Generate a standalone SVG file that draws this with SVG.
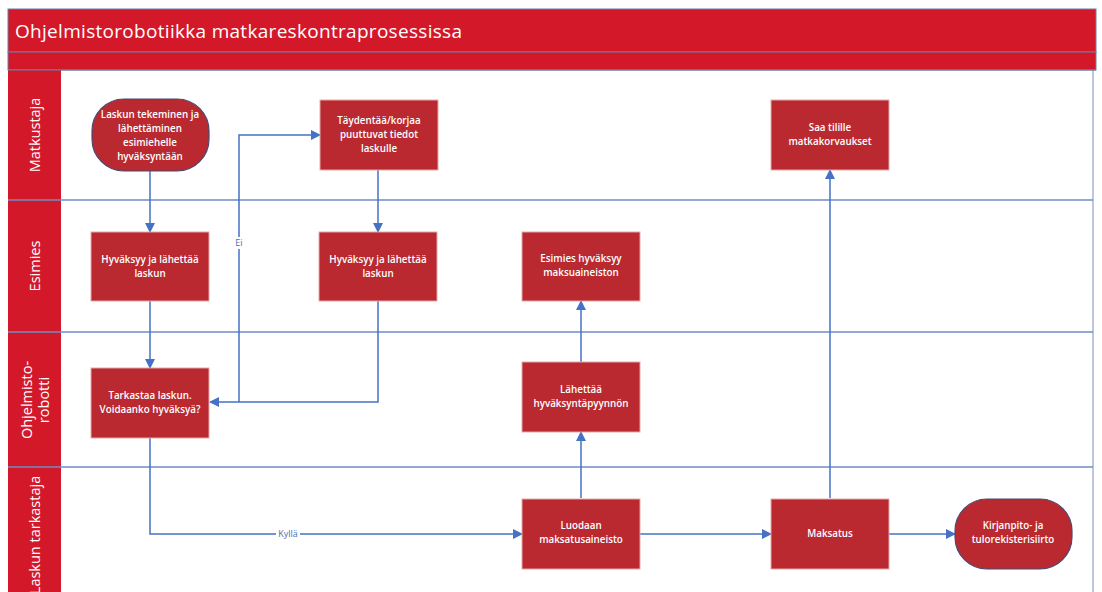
<svg xmlns="http://www.w3.org/2000/svg" width="1102" height="592" viewBox="0 0 1102 592">
<defs>
<marker id="arr" viewBox="0 0 10 10" refX="9" refY="5" markerWidth="10" markerHeight="10" markerUnits="userSpaceOnUse" orient="auto">
<path d="M0,0 L10,5 L0,10 z" fill="#4472C4"/>
</marker>
</defs>
<style>
.bar{fill:#D3182A;stroke:#6E7FA8;stroke-width:1}
.lane{stroke:#6F8CC4;stroke-width:1.5;fill:none}
.box{fill:#B9292F;stroke:#E7A9A9;stroke-width:1}
.term{fill:#B9292F;stroke:#4A4A72;stroke-width:1.2}
.nt{font-family:"Open Sans","Noto Sans",sans-serif;font-size:9.8px;font-weight:600;fill:#FFFFFF;text-anchor:middle}
.lt{font-family:"Open Sans","Noto Sans",sans-serif;font-size:14.5px;fill:#FFFFFF;text-anchor:middle}
.con{stroke:#4472C4;stroke-width:1.5;fill:none;marker-end:url(#arr)}
.cl{font-family:"Open Sans","Noto Sans",sans-serif;font-size:9px;fill:#4A6FB0;text-anchor:middle}
</style>
<rect x="0" y="0" width="1102" height="592" fill="#FFFFFF"/>
<g id="frame">
<rect class="bar" x="8" y="9" width="1088" height="43"/>
<rect class="bar" x="8" y="52" width="1088" height="18"/>
<rect x="8" y="70" width="53" height="530" fill="#D3182A"/>
<line x1="1093" y1="70" x2="1093" y2="592" stroke="#7D8DB5" stroke-width="1"/>
<line x1="8" y1="70" x2="1096" y2="70" stroke="#6E7FA8" stroke-width="1"/>
<text x="15" y="38" font-family="Open Sans,Noto Sans,sans-serif" font-size="19" fill="#FFFFFF" textLength="447">Ohjelmistorobotiikka matkareskontraprosessissa</text>
</g>
<g id="lanes">
<line class="lane" x1="8" y1="200" x2="1093" y2="200"/>
<line class="lane" x1="8" y1="332" x2="1093" y2="332"/>
<line class="lane" x1="8" y1="467" x2="1093" y2="467"/>
<text class="lt" transform="translate(40,135) rotate(-90)">Matkustaja</text>
<text class="lt" transform="translate(40,266) rotate(-90)">Esimies</text>
<text class="lt" transform="translate(32,400) rotate(-90)">Ohjelmisto-</text>
<text class="lt" transform="translate(49,400) rotate(-90)">robotti</text>
<text class="lt" transform="translate(40,535) rotate(-90)">Laskun tarkastaja</text>
</g>
<g id="connectors">
<path class="con" d="M150,170 V232"/>
<path class="con" d="M150,301 V368"/>
<path class="con" d="M150,438 V534 H522"/>
<path class="con" d="M378,301 V402 H210"/>
<path class="con" d="M239,402 V135 H320"/>
<path class="con" d="M378,170 V232"/>
<path class="con" d="M581,498 V432"/>
<path class="con" d="M581,362 V301"/>
<path class="con" d="M640,534 H771"/>
<path class="con" d="M830,498 V170"/>
<path class="con" d="M889,534 H955"/>
<rect x="233" y="237" width="12" height="12" fill="#FFFFFF"/>
<text class="cl" x="239" y="246">Ei</text>
<rect x="276" y="529" width="24" height="11" fill="#FFFFFF"/>
<text class="cl" x="288" y="537">Kyllä</text>
</g>
<g id="start">
<rect class="term" x="92" y="99" width="117" height="72" rx="32" ry="32"/>
<text class="nt" x="150" y="118">Laskun tekeminen ja</text>
<text class="nt" x="150" y="132">lähettäminen</text>
<text class="nt" x="150" y="146">esimiehelle</text>
<text class="nt" x="150" y="160">hyväksyntään</text>
</g>
<g id="taydentaa">
<rect class="box" x="320" y="100" width="118" height="70"/>
<text class="nt" x="379" y="124">Täydentää/korjaa</text>
<text class="nt" x="379" y="138">puuttuvat tiedot</text>
<text class="nt" x="379" y="152">laskulle</text>
</g>
<g id="saa">
<rect class="box" x="771" y="100" width="118" height="70"/>
<text class="nt" x="830" y="131">Saa tilille</text>
<text class="nt" x="830" y="145">matkakorvaukset</text>
</g>
<g id="hyvaksyy1">
<rect class="box" x="91" y="232" width="118" height="69"/>
<text class="nt" x="150" y="263">Hyväksyy ja lähettää</text>
<text class="nt" x="150" y="277">laskun</text>
</g>
<g id="hyvaksyy2">
<rect class="box" x="319" y="232" width="118" height="69"/>
<text class="nt" x="378" y="263">Hyväksyy ja lähettää</text>
<text class="nt" x="378" y="277">laskun</text>
</g>
<g id="esimieshyv">
<rect class="box" x="522" y="232" width="118" height="69"/>
<text class="nt" x="581" y="262">Esimies hyväksyy</text>
<text class="nt" x="581" y="276">maksuaineiston</text>
</g>
<g id="tarkastaa">
<rect class="box" x="91" y="368" width="118" height="70"/>
<text class="nt" x="150" y="399">Tarkastaa laskun.</text>
<text class="nt" x="150" y="413">Voidaanko hyväksyä?</text>
</g>
<g id="lahettaa">
<rect class="box" x="522" y="362" width="118" height="70"/>
<text class="nt" x="581" y="393">Lähettää</text>
<text class="nt" x="581" y="407">hyväksyntäpyynnön</text>
</g>
<g id="luodaan">
<rect class="box" x="522" y="499" width="118" height="70"/>
<text class="nt" x="581" y="529">Luodaan</text>
<text class="nt" x="581" y="543">maksatusaineisto</text>
</g>
<g id="maksatus">
<rect class="box" x="771" y="499" width="118" height="70"/>
<text class="nt" x="830" y="537">Maksatus</text>
</g>
<g id="kirjanpito">
<rect class="term" x="955" y="499" width="117" height="70" rx="32" ry="32"/>
<text class="nt" x="1013" y="529">Kirjanpito- ja</text>
<text class="nt" x="1013" y="543">tulorekisterisiirto</text>
</g>
</svg>
